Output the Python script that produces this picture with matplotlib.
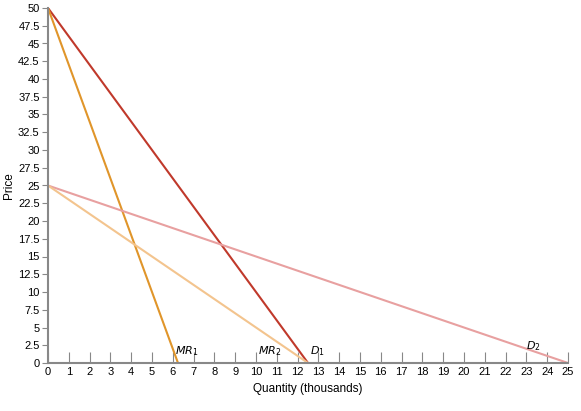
import matplotlib
matplotlib.use("Agg")
import matplotlib.pyplot as plt
import numpy as np

# endpoints (quantity, price) of each curve
d1_q = [0, 12.5]
d1_p = [50, 0]
mr1_q = [0, 6.25]
mr1_p = [50, 0]
d2_q = [0, 25]
d2_p = [25, 0]
mr2_q = [0, 12.5]
mr2_p = [25, 0]

x_ticks = list(range(0, 26))
y_ticks = [i * 2.5 for i in range(21)]

plt.rcParams['font.family'] = ['Liberation Sans Narrow', 'Liberation Sans', 'DejaVu Sans']

fig = plt.figure(figsize=(5.81, 4.11), dpi=100)
ax = fig.add_axes([48 / 581, 1 - 363 / 411, 520 / 581, 355 / 411])

ax.plot(d1_q, d1_p, color="#c0392b", lw=1.5)
ax.plot(mr1_q, mr1_p, color="#e0952a", lw=1.5)
ax.plot(d2_q, d2_p, color="#e8a0a0", lw=1.5)
ax.plot(mr2_q, mr2_p, color="#f3c48e", lw=1.5)

ax.text(6.1, 1.3, "$MR_1$", fontsize=8)
ax.text(10.1, 1.3, "$MR_2$", fontsize=8)
ax.text(12.6, 1.3, "$D_1$", fontsize=8)
ax.text(23.0, 2.0, "$D_2$", fontsize=8)

ax.set_xlim(0, 25)
ax.set_ylim(0, 50)
ax.set_xticks(x_ticks)
ax.set_yticks(y_ticks)
ax.set_yticklabels([f"{v:g}" for v in y_ticks])
ax.tick_params(axis="x", direction="in", length=8, color="#888888", labelsize=8, pad=3)
ax.tick_params(axis="y", direction="out", length=4, color="#888888", labelsize=8, pad=2)
for s in ["top", "right"]:
    ax.spines[s].set_visible(False)
for s in ["left", "bottom"]:
    ax.spines[s].set_color("#888888")
    ax.spines[s].set_linewidth(1.5)

ax.set_xlabel("Quantity (thousands)", fontsize=8.5)
ax.set_ylabel("Price", fontsize=8.5, labelpad=2)

fig.savefig("out.png", dpi=100)
